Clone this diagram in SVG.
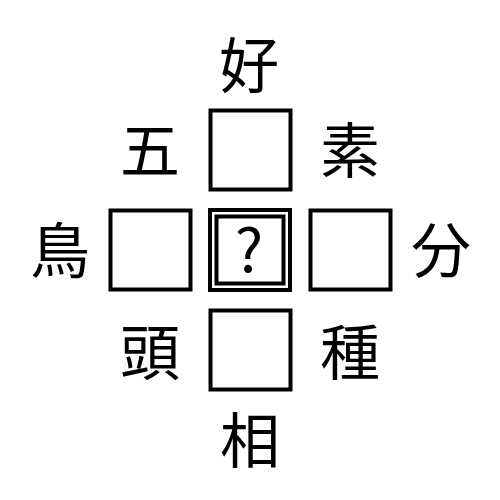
<svg xmlns="http://www.w3.org/2000/svg" width="500" height="500" viewBox="0 0 500 500">
<style>
.box{fill:#fff;stroke:#000;stroke-width:4}
.lbl{font-family:"Noto Sans CJK JP","Noto Sans CJK SC",sans-serif;font-size:60px;text-anchor:middle;fill:#000}
</style>
<rect width="500" height="500" fill="#fff"/>
<g id="top"><rect class="box" x="210.5" y="110.5" width="80" height="79"/></g>
<g id="left"><rect class="box" x="110.5" y="210.5" width="80" height="79"/></g>
<g id="right"><rect class="box" x="310.5" y="210.5" width="80" height="79"/></g>
<g id="bottom"><rect class="box" x="210.5" y="310.5" width="80" height="79"/></g>
<g id="center">
<rect class="box" x="210" y="210" width="80" height="80"/>
<rect class="box" x="216.5" y="216.5" width="67" height="67"/>
<text class="lbl" x="249" y="272">?</text>
</g>
<g id="labels">
<text class="lbl" x="249" y="88">好</text>
<text class="lbl" x="150" y="173">五</text>
<text class="lbl" x="350" y="173">素</text>
<text class="lbl" x="60" y="273">鳥</text>
<text class="lbl" x="441" y="273">分</text>
<text class="lbl" x="150" y="375">頭</text>
<text class="lbl" x="350" y="375">種</text>
<text class="lbl" x="250" y="463">相</text>
</g>
<g id="connectors"></g>
</svg>
